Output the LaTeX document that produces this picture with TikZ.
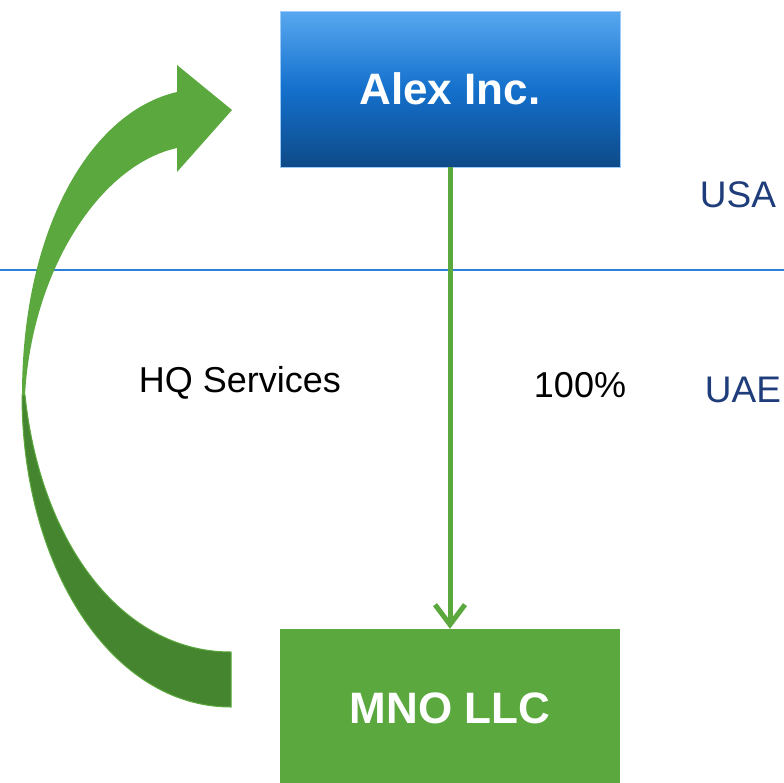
\documentclass[tikz,border=0pt]{standalone}
\usepackage{fontspec}
\setmainfont{Liberation Sans}
\usetikzlibrary{arrows.meta}
\definecolor{leaf}{HTML}{5AA83E}
\definecolor{leafdark}{HTML}{46852F}
\definecolor{skytop}{HTML}{58A8F0}
\definecolor{skymid}{HTML}{1470CC}
\definecolor{skybot}{HTML}{0E4A88}
\definecolor{border}{HTML}{2F7FD8}
\definecolor{navy}{HTML}{1F3D7A}
\tikzset{
  entity/.style={minimum width=340pt, minimum height=156pt, inner sep=0pt,
    text=white, font=\fontsize{44}{50}\selectfont\bfseries},
  plain/.style={anchor=base, inner sep=0pt, font=\fontsize{36}{42}\selectfont},
  country/.style={plain, text=navy, font=\fontsize{37}{42}\selectfont},
  owns/.style={draw=leaf, line width=5pt,
    -{Straight Barb[length=20pt, width=30pt, line width=5pt]}}
}
\begin{document}
\begin{tikzpicture}[x=1pt, y=-1pt]
  \useasboundingbox (0,0) rectangle (784,782);
  \fill[white] (0,0) rectangle (784,782);

  % jurisdiction divider
  \draw[border, line width=1.8pt] (0,270) -- (784,270);

  % companies
  \node[entity, top color=skytop, bottom color=skybot, middle color=skymid,
        draw=skytop!60, line width=0.6pt] (alex) at (450,89) {Alex Inc.};
  \node[entity, fill=leaf, minimum height=158pt] (mno) at (450,708) {MNO LLC};

  % ownership link
  \draw[owns] (alex.south) -- (mno.north);

  % HQ services curved arrow: shaded underside, then the lit upper part
  \filldraw[fill=leafdark, draw=leaf, line width=1pt]
    (22,395) .. controls (22,565) and (110,707) .. (231,707)
    -- (231,652) .. controls (120,652) and (40,540) .. (25,395) -- cycle;
  \fill[leaf]
    (22,395) .. controls (22,230) and (90,112) .. (177,92)
    -- (177,65) -- (232,110) -- (177,172) -- (177,148)
    .. controls (100,165) and (32,270) .. (25,395) -- cycle;

  % labels
  \node[plain] (hq) at (240,392) {HQ Services};
  \node[plain] (pct) at (580,397) {100\%};
  \node[country] (usa) at (738,207) {USA};
  \node[country] (uae) at (743,402) {UAE};
\end{tikzpicture}
\end{document}
